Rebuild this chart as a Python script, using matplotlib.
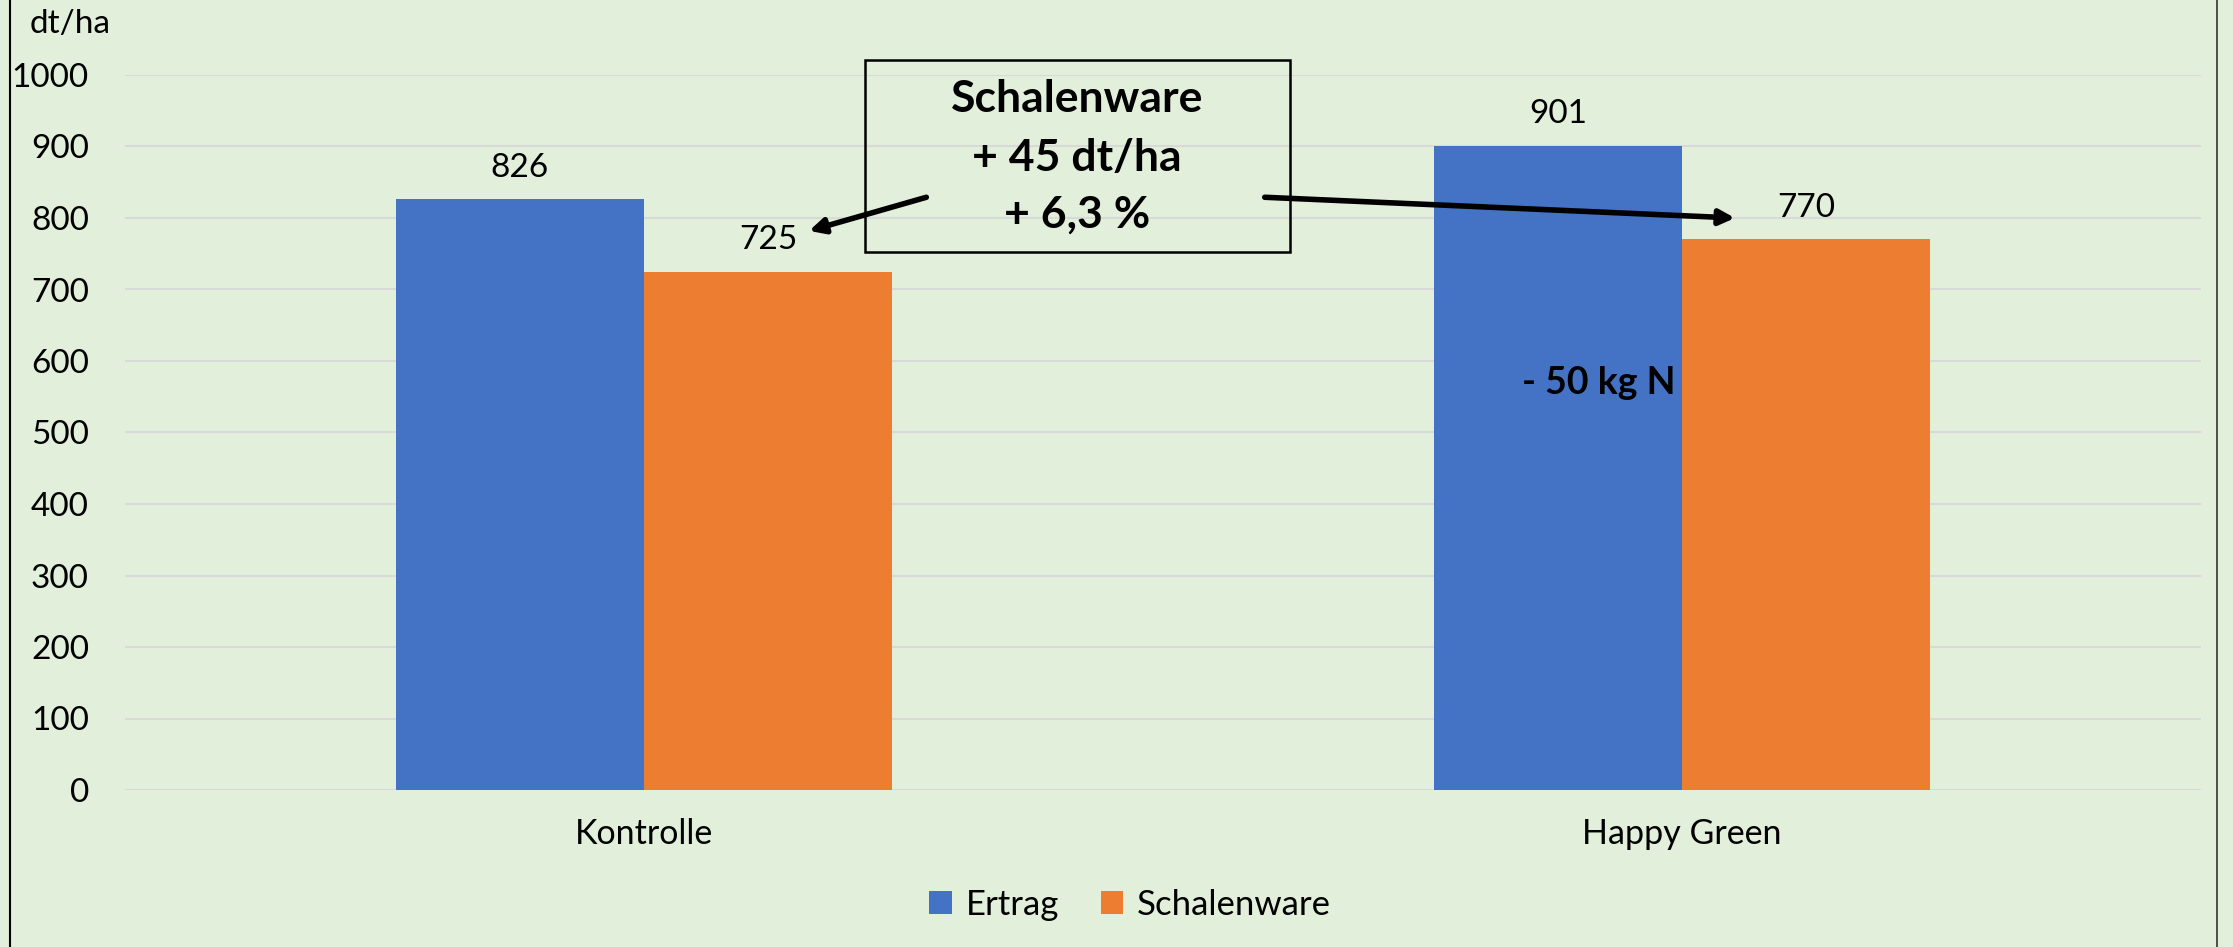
import numpy as np
import matplotlib
matplotlib.use("Agg")
import matplotlib.pyplot as plt
from matplotlib.patches import Rectangle
from matplotlib.lines import Line2D

categories = ["Kontrolle", "Happy Green"]
ertrag = [826, 901]
schalenware = [725, 770]
series_names = ["Ertrag", "Schalenware"]
yticks = [0, 100, 200, 300, 400, 500, 600, 700, 800, 900, 1000]

BG = "#e2efda"
BLUE = "#4472c4"
ORANGE = "#ed7d31"

plt.rcParams['font.family'] = ['Lato', 'DejaVu Sans']

W, H = 2233, 947
fig = plt.figure(figsize=(W / 100, H / 100), dpi=100, facecolor=BG)
ax = fig.add_axes([125 / W, 1 - 790 / H, (2201 - 125) / W, (790 - 75) / H])
ax.set_facecolor(BG)

x = np.arange(len(categories))
bw = 0.239
b1 = ax.bar(x - bw / 2, ertrag, bw, color=BLUE, label=series_names[0], zorder=2)
b2 = ax.bar(x + bw / 2, schalenware, bw, color=ORANGE, label=series_names[1], zorder=4)

# value labels above bars
for rects, vals in ((b1, ertrag), (b2, schalenware)):
    for r, v in zip(rects, vals):
        ax.annotate(str(v), (r.get_x() + r.get_width() / 2, v), xytext=(0, 12),
                    textcoords="offset points", ha="center", va="bottom",
                    fontsize=24, zorder=5)

ax.set_xlim(-0.5, 1.5)
ax.set_ylim(0, 1000)
ax.set_yticks(yticks)
ax.set_xticks(x)
ax.set_xticklabels(categories)
ax.tick_params(axis="y", length=0, labelsize=24, pad=26)
ax.tick_params(axis="x", length=0, labelsize=24.5, pad=20)
ax.grid(axis="y", color="#d9d9d9", linewidth=1.5, zorder=0)
for s in ax.spines.values():
    s.set_visible(False)

# annotation box
ax.add_patch(Rectangle((0.213, 752), 0.622 - 0.213, 1021 - 752, fill=False,
                       edgecolor="black", linewidth=1.8, clip_on=False, zorder=6))
for txt, yy in (("Schalenware", 966), ("+ 45 dt/ha", 884), ("+ 6,3 %", 805)):
    ax.text(0.417, yy, txt, ha="center", va="center", fontsize=32,
            fontweight="bold", zorder=7)

arrow = dict(arrowstyle="-|>,head_length=0.9,head_width=0.45", color="black",
             linewidth=4, shrinkA=0, shrinkB=0)
ax.annotate("", xy=(0.159, 782), xytext=(0.272, 829), arrowprops=arrow, zorder=7)
ax.annotate("", xy=(1.051, 800), xytext=(0.598, 829), arrowprops=arrow, zorder=7)

ax.text(0.846, 569, "- 50 kg N", ha="left", va="center", fontsize=27,
        fontweight="bold", zorder=3)

fig.text(30 / W, 1 - 24 / H, "dt/ha", ha="left", va="center", fontsize=24)

fig.legend(handles=[b1, b2], labels=series_names, loc="center",
           bbox_to_anchor=(1130 / W, 1 - 905 / H), ncol=2, frameon=False,
           fontsize=25, handlelength=0.65, handleheight=0.65,
           handletextpad=0.4, columnspacing=1.2)

# frame lines at left and right
fig.add_artist(Line2D([10 / W, 10 / W], [0, 1], color="black", linewidth=1.5))
fig.add_artist(Line2D([2217 / W, 2217 / W], [0, 1], color="#333333", linewidth=1.2))

fig.savefig("out.png", dpi=100, facecolor=BG)
